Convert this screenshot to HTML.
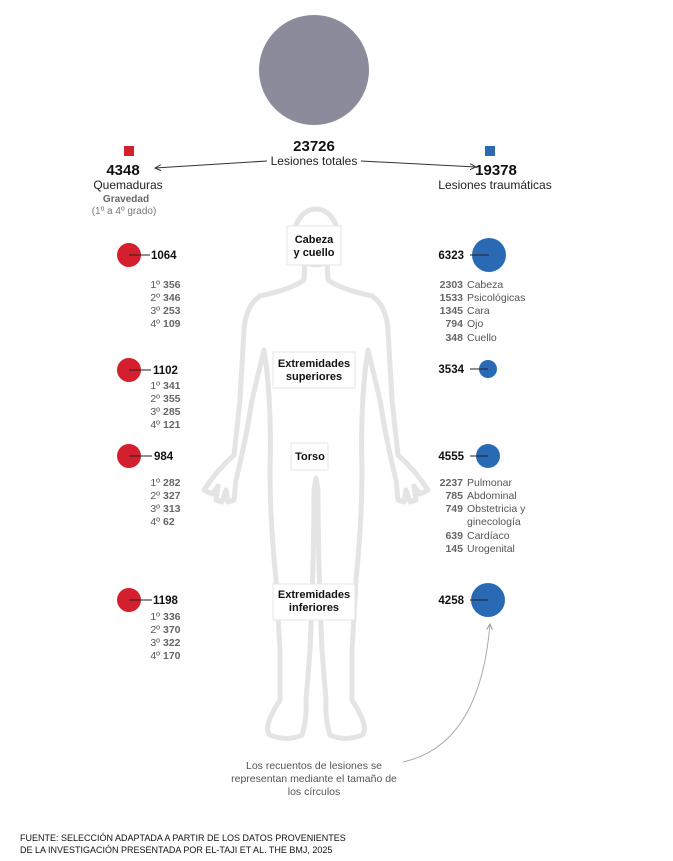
<!DOCTYPE html>
<html><head><meta charset="utf-8"><style>
html,body{margin:0;padding:0;background:#fff;}
svg{display:block;font-family:"Liberation Sans",sans-serif;}
.b{font-weight:bold;fill:#111;}
.g{fill:#555;}
.gb{fill:#666;font-weight:bold;}
</style></head><body>
<svg width="673" height="861" viewBox="0 0 673 861">
<defs><marker id="ar" markerWidth="8" markerHeight="8" refX="6" refY="4" orient="auto"><path d="M0,1 L6,4 L0,7" fill="none" stroke="#333" stroke-width="1"/></marker>
<marker id="ag" markerWidth="8" markerHeight="8" refX="6" refY="4" orient="auto"><path d="M0,1 L6,4 L0,7" fill="none" stroke="#999" stroke-width="1"/></marker></defs>
<circle cx="314" cy="70" r="55" fill="#8b8b9c"/>
<!-- body -->
<g fill="none" stroke="#e4e4e4" stroke-width="5" stroke-linejoin="round" stroke-linecap="round">
<ellipse cx="316" cy="237" rx="22" ry="28"/>
<g id="half"><path d="M327,262 L328,280 Q340,289 372,296 Q386,305 388,330 L392,400 L398,455 Q415,470 428,490 L420,494 L414,486 L416,500 L410,502 L406,490 L404,502 L398,500 L396,480 Q386,440 380,400 L368,350 Q360,400 362,470 Q362,520 356,580 L352,650 L352,700 Q370,728 362,735 Q345,742 330,735 Q325,720 326,700 L322,650 Q318,560 318,490 L316,478"/></g>
<use href="#half" transform="translate(632,0) scale(-1,1)"/>
</g>
<!-- boxes -->
<g fill="#fff" stroke="#e6e6e6" stroke-width="1">
<rect x="287" y="226" width="54" height="39"/>
<rect x="273" y="352" width="82" height="36"/>
<rect x="291" y="443" width="37" height="27"/>
<rect x="273" y="584" width="82" height="36"/>
</g>
<g class="b" font-size="11" text-anchor="middle">
<text x="314" y="243">Cabeza</text><text x="314" y="256">y cuello</text>
<text x="314" y="367">Extremidades</text><text x="314" y="380">superiores</text>
<text x="310" y="460">Torso</text>
<text x="314" y="598">Extremidades</text><text x="314" y="611">inferiores</text>
</g>
<!-- header -->
<text x="314" y="151" class="b" font-size="15" text-anchor="middle">23726</text>
<text x="314" y="165" font-size="12" fill="#222" text-anchor="middle">Lesiones totales</text>
<line x1="267" y1="161" x2="155" y2="168" stroke="#333" marker-end="url(#ar)"/>
<line x1="361" y1="161" x2="476" y2="167" stroke="#333" marker-end="url(#ar)"/>
<rect x="124" y="146" width="10" height="10" fill="#d4202e"/>
<rect x="485" y="146" width="10" height="10" fill="#2a6ab5"/>
<text x="123" y="175" class="b" font-size="15" text-anchor="middle">4348</text>
<text x="496" y="175" class="b" font-size="15" text-anchor="middle">19378</text>
<text x="128" y="189" font-size="12" fill="#222" text-anchor="middle">Quemaduras</text>
<text x="495" y="189" font-size="12" fill="#222" text-anchor="middle">Lesiones traumáticas</text>
<text x="126" y="202" font-size="10" class="gb" text-anchor="middle">Gravedad</text>
<text x="124" y="214" font-size="10" fill="#777" text-anchor="middle">(1º a 4º grado)</text>
<!-- red circles -->
<g fill="#d4202e"><circle cx="129" cy="255" r="12"/><circle cx="129" cy="370" r="12"/><circle cx="129" cy="456" r="12"/><circle cx="129" cy="600" r="12"/></g>
<g stroke="#222" stroke-width="1"><line x1="129" y1="255" x2="150" y2="255"/><line x1="129" y1="370" x2="151" y2="370"/><line x1="129" y1="456" x2="152" y2="456"/><line x1="129" y1="600" x2="152" y2="600"/></g>
<g class="b" font-size="11.5"><text x="151" y="259">1064</text><text x="153" y="374">1102</text><text x="154" y="460">984</text><text x="153" y="604">1198</text></g>
<g font-size="10.5" text-anchor="end">
<g class="g"><text x="160" y="288">1º</text><text x="160" y="301">2º</text><text x="160" y="314">3º</text><text x="160" y="327">4º</text>
<text x="160" y="389">1º</text><text x="160" y="402">2º</text><text x="160" y="415">3º</text><text x="160" y="428">4º</text>
<text x="160" y="486">1º</text><text x="160" y="499">2º</text><text x="160" y="512">3º</text><text x="160" y="525">4º</text>
<text x="160" y="620">1º</text><text x="160" y="633">2º</text><text x="160" y="646">3º</text><text x="160" y="659">4º</text></g>
</g>
<g font-size="10.5" class="gb">
<text x="163" y="288">356</text><text x="163" y="301">346</text><text x="163" y="314">253</text><text x="163" y="327">109</text>
<text x="163" y="389">341</text><text x="163" y="402">355</text><text x="163" y="415">285</text><text x="163" y="428">121</text>
<text x="163" y="486">282</text><text x="163" y="499">327</text><text x="163" y="512">313</text><text x="163" y="525">62</text>
<text x="163" y="620">336</text><text x="163" y="633">370</text><text x="163" y="646">322</text><text x="163" y="659">170</text>
</g>
<!-- blue circles -->
<g fill="#2a6ab5"><circle cx="489" cy="255" r="17"/><circle cx="488" cy="369" r="9"/><circle cx="488" cy="456" r="12"/><circle cx="488" cy="600" r="17"/></g>
<g stroke="#222" stroke-width="1"><line x1="470" y1="255" x2="489" y2="255"/><line x1="470" y1="369" x2="488" y2="369"/><line x1="470" y1="456" x2="488" y2="456"/><line x1="470" y1="600" x2="488" y2="600"/></g>
<g class="b" font-size="11.5" text-anchor="end"><text x="464" y="259">6323</text><text x="464" y="373">3534</text><text x="464" y="460">4555</text><text x="464" y="604">4258</text></g>
<g font-size="10.5" class="gb" text-anchor="end">
<text x="463" y="288">2303</text><text x="463" y="301">1533</text><text x="463" y="314">1345</text><text x="463" y="327">794</text><text x="463" y="341">348</text>
<text x="463" y="486">2237</text><text x="463" y="499">785</text><text x="463" y="512">749</text><text x="463" y="539">639</text><text x="463" y="552">145</text>
</g>
<g font-size="10.5" class="g">
<text x="467" y="288">Cabeza</text><text x="467" y="301">Psicológicas</text><text x="467" y="314">Cara</text><text x="467" y="327">Ojo</text><text x="467" y="341">Cuello</text>
<text x="467" y="486">Pulmonar</text><text x="467" y="499">Abdominal</text><text x="467" y="512">Obstetricia y</text><text x="467" y="525">ginecología</text><text x="467" y="539">Cardíaco</text><text x="467" y="552">Urogenital</text>
</g>
<!-- note -->
<path d="M403,762 Q480,745 490,624" fill="none" stroke="#aaa" stroke-width="1" marker-end="url(#ag)"/>
<g font-size="10.5" class="g" text-anchor="middle">
<text x="314" y="769">Los recuentos de lesiones se</text>
<text x="314" y="782">representan mediante el tamaño de</text>
<text x="314" y="795">los círculos</text>
</g>
<g font-size="9" fill="#111">
<text x="20" y="841">FUENTE: SELECCIÓN ADAPTADA A PARTIR DE LOS DATOS PROVENIENTES</text>
<text x="20" y="853">DE LA INVESTIGACIÓN PRESENTADA POR EL-TAJI ET AL. THE BMJ, 2025</text>
</g>
</svg>
</body></html>
